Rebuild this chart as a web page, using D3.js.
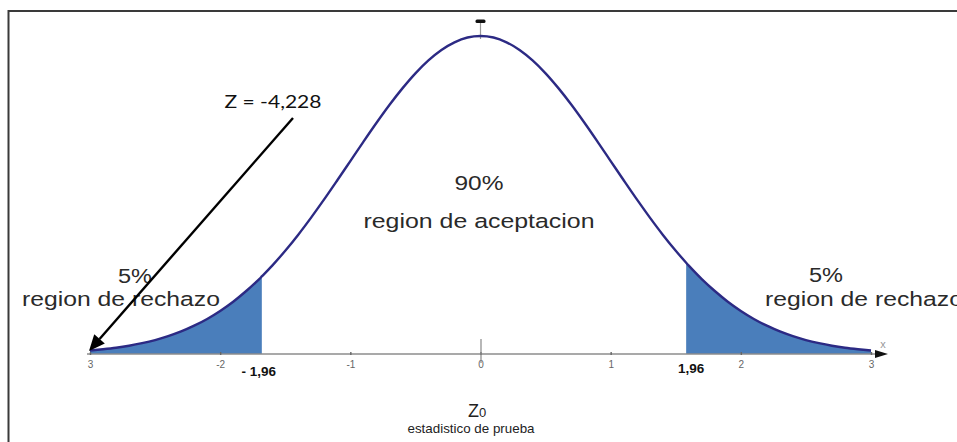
<!DOCTYPE html>
<html>
<head>
<meta charset="utf-8">
<script src="https://cdn.jsdelivr.net/npm/d3@7"></script>
<style>
  html, body { margin: 0; padding: 0; background: #fff; }
  svg { display: block; }
</style>
</head>
<body>
<svg id="chart" width="957" height="442"></svg>
<script>
// ---- data (standard normal density table, read as drawn) ----
const zValues = [-3.0,-2.9,-2.8,-2.7,-2.6,-2.5,-2.4,-2.3,-2.2,-2.1,-2.0,-1.9,-1.8,-1.7,-1.68,-1.6,-1.5,-1.4,-1.3,-1.2,-1.1,-1.0,-0.9,-0.8,-0.7,-0.6,-0.5,-0.4,-0.3,-0.2,-0.1,0.0,0.1,0.2,0.3,0.4,0.5,0.6,0.7,0.8,0.9,1.0,1.1,1.2,1.3,1.4,1.5,1.58,1.6,1.7,1.8,1.9,2.0,2.1,2.2,2.3,2.4,2.5,2.6,2.7,2.8,2.9,3.0];
const density = [0.0044,0.0060,0.0079,0.0104,0.0136,0.0175,0.0224,0.0283,0.0355,0.0440,0.0540,0.0656,0.0790,0.0940,0.0973,0.1109,0.1295,0.1497,0.1714,0.1942,0.2179,0.2420,0.2661,0.2897,0.3123,0.3332,0.3521,0.3683,0.3814,0.3910,0.3970,0.3989,0.3970,0.3910,0.3814,0.3683,0.3521,0.3332,0.3123,0.2897,0.2661,0.2420,0.2179,0.1942,0.1714,0.1497,0.1295,0.1145,0.1109,0.0940,0.0790,0.0656,0.0540,0.0440,0.0355,0.0283,0.0224,0.0175,0.0136,0.0104,0.0079,0.0060,0.0044];
const leftCritical = -1.68;
const rightCritical = 1.58;
const tickValues = [-3, -2, -1, 0, 1, 2, 3];
const tickLabels = ["3", "-2", "-1", "0", "1", "2", "3"];
const criticalLabels = ["- 1,96", "1,96"];
const observedLabel = "Z = -4,228";
const observedZ = -3;
const acceptPct = "90%";
const acceptText = "region de aceptacion";
const rejectPct = "5%";
const rejectText = "region de rechazo";
const axisTitle = "Z";
const axisTitleSub = "0";
const axisSubtitle = "estadistico de prueba";

const pts = zValues.map((z, i) => ({ z, d: density[i] }));

const svg = d3.select("#chart");
const x = d3.scaleLinear().domain([-3, 3]).range([90, 871]);
const y = d3.scaleLinear().domain([0, 0.3989]).range([354, 36]);

// frame
svg.append("rect").attr("x", 8.5).attr("y", 11).attr("width", 1000).attr("height", 500)
  .attr("fill", "none").attr("stroke", "#3a3a3a").attr("stroke-width", 2);

const curve = d3.curveCatmullRom.alpha(0.5);
const area = d3.area().x(p => x(p.z)).y0(y(0)).y1(p => y(p.d)).curve(curve);
const line = d3.line().x(p => x(p.z)).y(p => y(p.d)).curve(curve);

const fillColor = "#4a7ebb";
svg.append("path").datum(pts.filter(p => p.z <= leftCritical))
  .attr("d", area).attr("fill", fillColor);
svg.append("path").datum(pts.filter(p => p.z >= rightCritical))
  .attr("d", area).attr("fill", fillColor);

// axis line + arrow
const axisY = y(0);
svg.append("line").attr("x1", 87).attr("x2", 878).attr("y1", axisY).attr("y2", axisY)
  .attr("stroke", "#8c8c8c").attr("stroke-width", 1.6);
svg.append("path").attr("d", `M875,${axisY-4} L888,${axisY} L875,${axisY+4} Z`).attr("fill", "#111");
svg.append("text").attr("x", 883).attr("y", axisY - 6).attr("text-anchor", "middle")
  .attr("font-family", "Liberation Sans, Arial, sans-serif").attr("font-size", 11)
  .attr("fill", "#999").text("x");

// ticks
const axis = d3.axisBottom(x).tickValues(tickValues).tickFormat((d, i) => tickLabels[i])
  .tickSize(2).tickPadding(5);
const gAxis = svg.append("g").attr("transform", `translate(0,${axisY})`).call(axis);
gAxis.select(".domain").remove();
gAxis.selectAll(".tick line").attr("y1", -2).attr("y2", 1).attr("stroke", "#666").attr("stroke-width", 1.4);
gAxis.selectAll(".tick text").attr("font-family", "Liberation Sans, Arial, sans-serif")
  .attr("font-size", 10).attr("fill", "#666");

// centre line
svg.append("line").attr("x1", x(0) + 0.5).attr("x2", x(0) + 0.5).attr("y1", axisY - 15).attr("y2", axisY + 9)
  .attr("stroke", "#888").attr("stroke-width", 1.2);
svg.append("line").attr("x1", x(0)).attr("x2", x(0)).attr("y1", 22).attr("y2", y(0.3989) + 3)
  .attr("stroke", "#999").attr("stroke-width", 1.2);
svg.append("rect").attr("x", x(0) - 5).attr("y", 19.5).attr("width", 10).attr("height", 3.5)
  .attr("rx", 1.5).attr("fill", "#111");

// density curve
svg.append("path").datum(pts).attr("d", line).attr("fill", "none")
  .attr("stroke", "#2c2a84").attr("stroke-width", 2.4);

// critical labels
const bold = g => g.attr("font-family", "Liberation Sans, Arial, sans-serif").attr("font-weight", "bold")
  .attr("font-size", 13.5).attr("fill", "#111");
svg.append("text").attr("x", x(leftCritical) - 3).attr("y", 376).attr("text-anchor", "middle")
  .call(bold).text(criticalLabels[0]);
svg.append("text").attr("x", x(rightCritical) + 5).attr("y", 373).attr("text-anchor", "middle")
  .call(bold).text(criticalLabels[1]);

// region labels
const reg = (sel, len) => sel.attr("font-family", "Liberation Sans, Arial, sans-serif")
  .attr("font-size", 20.5).attr("fill", "#2a2a2a").attr("text-anchor", "middle")
  .attr("textLength", len).attr("lengthAdjust", "spacingAndGlyphs");
svg.append("text").attr("x", 479).attr("y", 190).call(reg, 49).text(acceptPct);
svg.append("text").attr("x", 479).attr("y", 228).call(reg, 231).text(acceptText);
svg.append("text").attr("x", 135).attr("y", 283).call(reg, 34).text(rejectPct);
svg.append("text").attr("x", 121).attr("y", 306).call(reg, 198).text(rejectText);
svg.append("text").attr("x", 826).attr("y", 282).call(reg, 34).text(rejectPct);
svg.append("text").attr("x", 864).attr("y", 306).call(reg, 198).text(rejectText);

// axis title
const zt = svg.append("text").attr("x", 477).attr("y", 417).attr("text-anchor", "middle")
  .attr("font-family", "Liberation Sans, Arial, sans-serif").attr("fill", "#222");
zt.append("tspan").attr("font-size", 18).text(axisTitle);
zt.append("tspan").attr("font-size", 13).text(axisTitleSub);
svg.append("text").attr("x", 471).attr("y", 433).attr("text-anchor", "middle")
  .attr("font-family", "Liberation Sans, Arial, sans-serif").attr("font-size", 13.5)
  .attr("fill", "#222").attr("textLength", 127).attr("lengthAdjust", "spacingAndGlyphs")
  .text(axisSubtitle);

// observed statistic annotation
svg.append("text").attr("x", 273).attr("y", 108).attr("text-anchor", "middle")
  .attr("font-family", "Lato, Open Sans, sans-serif").attr("font-size", 18).attr("fill", "#111")
  .attr("textLength", 97).attr("lengthAdjust", "spacingAndGlyphs").text(observedLabel);
const tipX = x(observedZ) - 1, tipY = axisY - 3;
const startX = 293, startY = 118;
const ang = Math.atan2(tipY - startY, tipX - startX);
const headLen = 16, headW = 7;
const bx = tipX - headLen * Math.cos(ang), by = tipY - headLen * Math.sin(ang);
svg.append("line").attr("x1", startX).attr("y1", startY).attr("x2", bx).attr("y2", by)
  .attr("stroke", "#000").attr("stroke-width", 2.4);
svg.append("path").attr("d",
  `M${tipX},${tipY} L${bx + headW * Math.sin(ang)},${by - headW * Math.cos(ang)} L${bx - headW * Math.sin(ang)},${by + headW * Math.cos(ang)} Z`)
  .attr("fill", "#000");
</script>
</body>
</html>
